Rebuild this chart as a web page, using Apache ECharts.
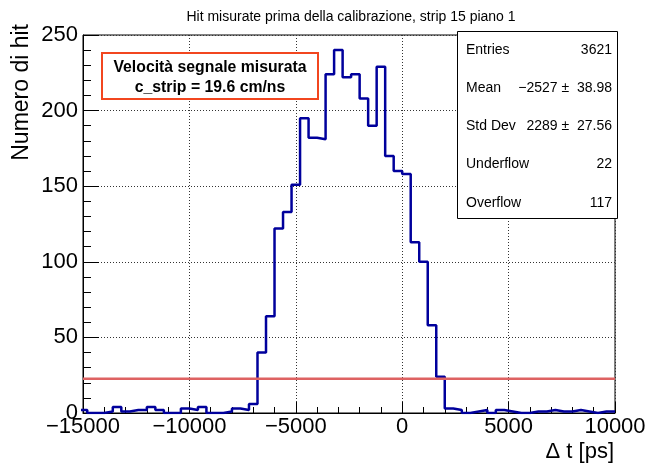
<!DOCTYPE html>
<html>
<head>
<meta charset="utf-8">
<script src="https://cdn.jsdelivr.net/npm/echarts@6/dist/echarts.min.js"></script>
<style>
html,body{margin:0;padding:0;background:#fff;}
#chart{width:655px;height:468px;}
</style>
</head>
<body>
<div id="chart"></div>
<script>
// ---- data ----
const titleText = 'Hit misurate prima della calibrazione, strip 15 piano 1';
const xAxisTitle = '\u0394 t [ps]';
const yAxisTitle = 'Numero di hit';
const binLow = -15200;      // lower edge of first (partially shown) bin
const binWidth = 400;       // ps
const counts = [
  2,0,0,1,4,1,2,2,4,2,0,0,3,2,4,0,0,1,3,2,6,
  40,64,122,133,151,195,182,181,224,240,222,224,208,190,229,170,160,158,113,100,58,24,
  3,2,0,1,2,0,2,1,0,0,1,1,2,1,1,2,1,0,1,1
];
const thresholdLevel = 22.6;
const xRange = [-15000, 10000];
const yRange = [0, 250];
const legendLines = ['Velocit\u00e0 segnale misurata', 'c_strip = 19.6 cm/ns'];
const statsLabels = ['Entries', 'Mean', 'Std Dev', 'Underflow', 'Overflow'];
const statsValues = ['3621', '\u22122527 \u00b1  38.98', '2289 \u00b1  27.56', '22', '117'];

// ---- build ----
const histPts = counts.map((c, i) => [binLow + i * binWidth, c]);
histPts.push([binLow + counts.length * binWidth, counts[counts.length - 1]]);

const FONT = '"Liberation Sans", Arial, Helvetica, sans-serif';
const chart = echarts.init(document.getElementById('chart'), null, {renderer: 'canvas'});

const G = {left: 83, top: 35, right: 615, bottom: 413};

const graphics = [];
// title
graphics.push({type: 'text', x: 351, y: 17,
  style: {text: titleText, font: '14px ' + FONT, fill: '#000', textAlign: 'center', textVerticalAlign: 'middle'}, z: 10});
// y-axis title (rotated, aligned to top)
graphics.push({type: 'text', x: 22, y: 24, rotation: Math.PI / 2,
  style: {text: yAxisTitle, font: '23px ' + FONT, fill: '#000', textAlign: 'right', textVerticalAlign: 'middle'}, z: 10});
// x-axis title
graphics.push({type: 'text', x: 614, y: 452,
  style: {text: xAxisTitle, font: '22px ' + FONT, fill: '#000', textAlign: 'right', textVerticalAlign: 'middle'}, z: 10});
// legend box
graphics.push({type: 'rect', shape: {x: 102, y: 53, width: 216, height: 46},
  style: {fill: '#fff', stroke: '#f2461f', lineWidth: 2}, z: 20});
legendLines.forEach((t, i) => {
  graphics.push({type: 'text', x: 210, y: 68 + i * 19.5,
    style: {text: t, font: 'bold 15.8px ' + FONT, fill: '#000', textAlign: 'center', textVerticalAlign: 'middle'}, z: 21});
});
// stats box
graphics.push({type: 'rect', shape: {x: 457.5, y: 31.5, width: 160, height: 187},
  style: {fill: '#fff', stroke: '#000', lineWidth: 1}, z: 20});
statsLabels.forEach((t, i) => {
  const yy = 50 + i * 38.2;
  graphics.push({type: 'text', x: 466, y: yy,
    style: {text: t, font: '14px ' + FONT, fill: '#000', textAlign: 'left', textVerticalAlign: 'middle'}, z: 21});
  graphics.push({type: 'text', x: 612, y: yy,
    style: {text: statsValues[i], font: '14px ' + FONT, fill: '#000', textAlign: 'right', textVerticalAlign: 'middle'}, z: 21});
});

const minusFmt = v => String(v).replace('-', '\u2212');

chart.setOption({
  animation: false,
  backgroundColor: '#fff',
  grid: {left: G.left, top: G.top, width: G.right - G.left, height: G.bottom - G.top,
    show: true, borderColor: '#000', borderWidth: 1, containLabel: false},
  xAxis: {
    type: 'value', min: xRange[0], max: xRange[1], interval: 5000,
    axisLine: {show: true, onZero: false, lineStyle: {color: '#000', width: 1}},
    axisTick: {show: true, inside: true, length: 11, lineStyle: {color: '#000'}},
    minorTick: {show: true, splitNumber: 5, length: 6, lineStyle: {color: '#000'}},
    axisLabel: {show: true, margin: 3, color: '#000', fontSize: 22, fontFamily: FONT,
      formatter: minusFmt, showMinLabel: true, showMaxLabel: true},
    splitLine: {show: true, lineStyle: {color: '#333', type: [1, 2], width: 1}}
  },
  yAxis: {
    type: 'value', min: yRange[0], max: yRange[1], interval: 50,
    axisLine: {show: true, onZero: false, lineStyle: {color: '#000', width: 1}},
    axisTick: {show: true, inside: true, length: 16, lineStyle: {color: '#000'}},
    minorTick: {show: true, splitNumber: 5, length: 8, lineStyle: {color: '#000'}},
    axisLabel: {show: true, margin: 5, color: '#000', fontSize: 22, fontFamily: FONT,
      showMinLabel: true, showMaxLabel: true},
    splitLine: {show: true, lineStyle: {color: '#333', type: [1, 2], width: 1}}
  },
  series: [
    {type: 'line', data: histPts, step: 'end', showSymbol: false, symbol: 'none',
      lineStyle: {color: '#00009c', width: 2.5}, clip: true, z: 3},
    {type: 'line', data: [[xRange[0], thresholdLevel], [xRange[1], thresholdLevel]],
      showSymbol: false, symbol: 'none', lineStyle: {color: '#de6262', width: 2.5}, clip: true, z: 4}
  ],
  graphic: graphics
});
</script>
</body>
</html>
